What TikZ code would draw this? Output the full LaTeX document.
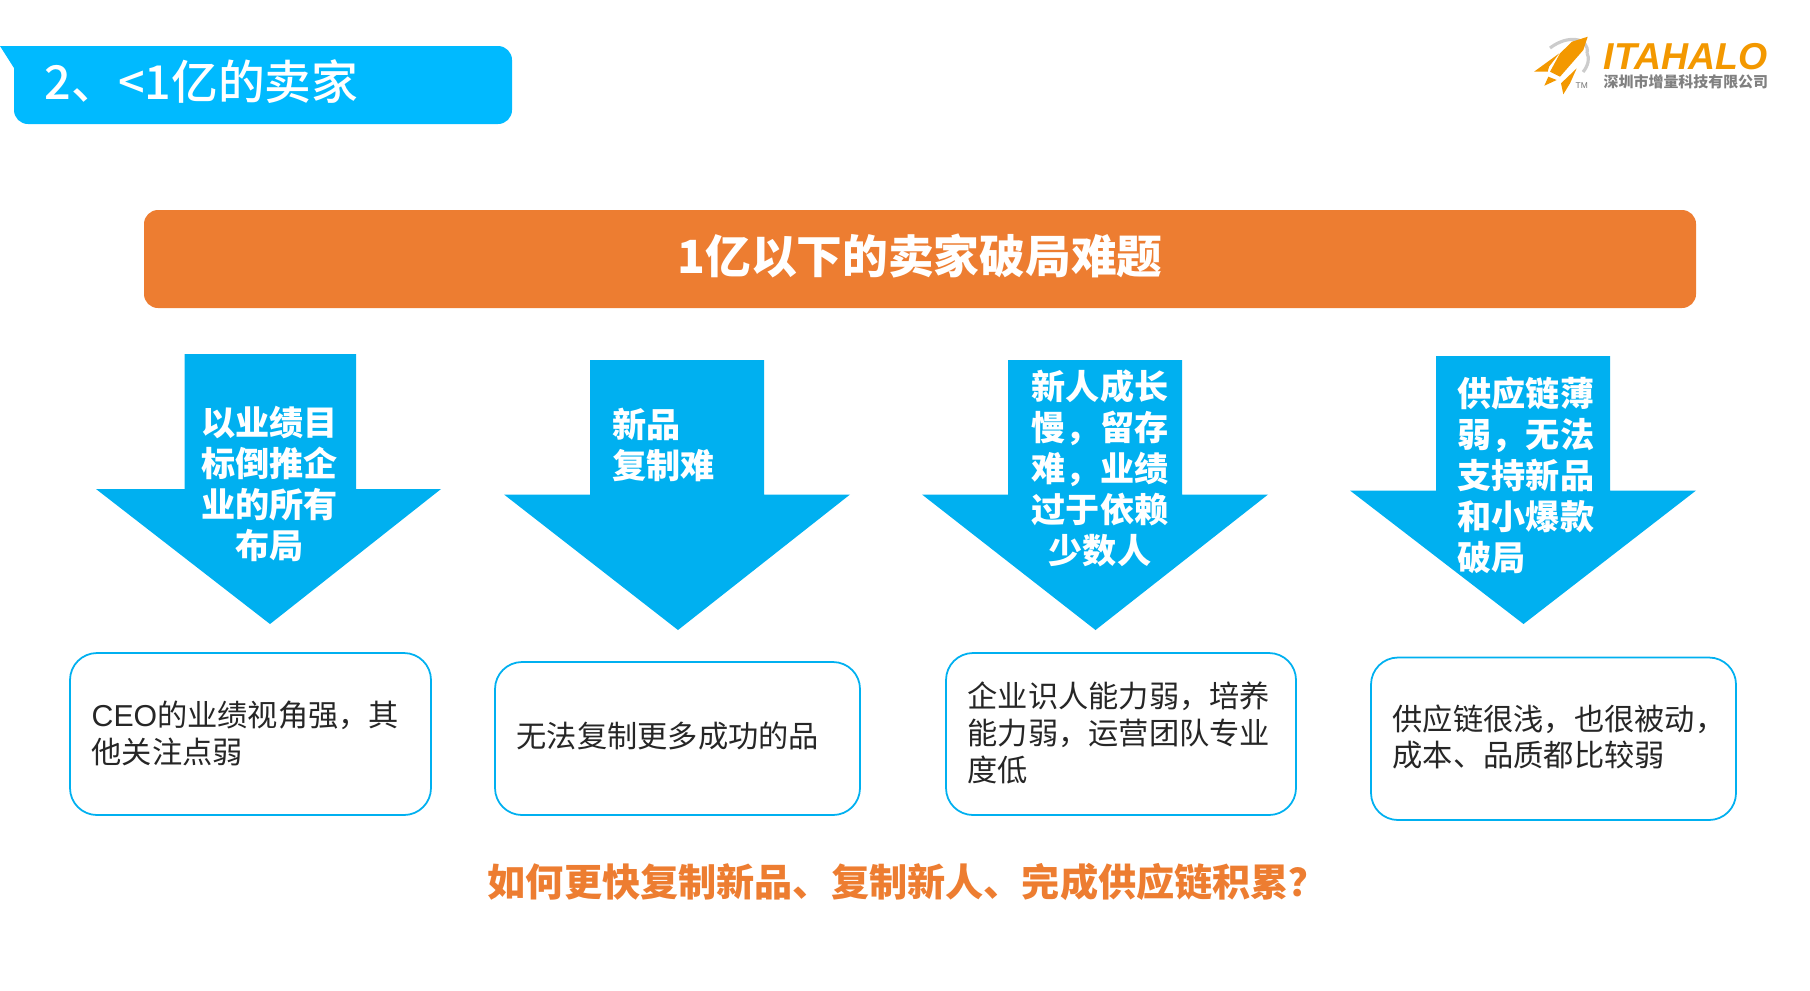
\documentclass[tikz,border=0pt]{standalone}
\usepackage{fontspec}
\setmainfont{Noto Sans CJK SC}
\newfontfamily\logofont{Liberation Sans}
\newfontfamily\mediumfont{Noto Sans CJK SC Medium}
\definecolor{headblue}{HTML}{00BAFF}
\definecolor{primary}{HTML}{00B0F0}
\definecolor{accent}{HTML}{ED7D31}
\definecolor{rocket}{HTML}{F39800}
\tikzset{
  x=0.01cm, y=-0.01cm,
  arrowtext/.style={inner sep=0, text=white, font=\fontsize{9.7}{11.66}\selectfont\bfseries},
  boxtext/.style={inner sep=0, anchor=west, align=left, text=black!85, font=\fontsize{8.6}{10.5}\selectfont},
  issuebox/.style={draw=primary, line width=0.5pt, fill=white, rounded corners=0.27cm},
}
\begin{document}
\begin{tikzpicture}
    \useasboundingbox (0,0) rectangle (1810,990);
    % title tab
    \fill [headblue, rounded corners=0.14cm] (14,124) -- (512,124) -- (512,46) -- (30,46) [sharp corners] -- (0,46) -- (14,68) [rounded corners=0.14cm] -- cycle;
    \node[inner sep=0, anchor=west, text=white, font=\mediumfont\fontsize{13.3}{15}\selectfont] (title) at (44,82) {2、<1亿的卖家};
    % logo
    \draw [black!20, line width=0.9pt] (1550,48) .. controls (1568,34) and (1590,38) .. (1587,53);
    \draw [black!20, line width=0.9pt] (1587,53) .. controls (1590,58) and (1588,66) .. (1583,72);
    \fill [rocket] (1587.7,36.7) -- (1572,41.7) -- (1560,53.3) -- (1550,71.7) -- (1560,76.7) -- (1571.7,63.3) -- (1583.3,50) -- cycle;
    \fill [rocket] (1534,71.7) -- (1559.3,53.3) -- (1549,66.7) -- (1547.7,71.7) -- cycle;
    \fill [rocket] (1544.3,85.7) -- (1548.3,76.7) -- (1556.7,80) -- cycle;
    \fill [rocket] (1563.3,94.3) -- (1561,83.3) -- (1576.7,68.3) -- (1570,83.3) -- cycle;
    \node[inner sep=0, anchor=west, text=black!55, font=\logofont\fontsize{2.4}{3}\selectfont] (tm) at (1575,85.5) {TM};
    \node[inner sep=0, anchor=west, text=rocket, font=\logofont\fontsize{10.65}{12}\selectfont\bfseries\itshape] (logoname) at (1603,57) {ITAHALO};
    \node[inner sep=0, anchor=west, text=black!50, font=\fontsize{4.25}{5}\selectfont\bfseries] (logosub) at (1603,82) {深圳市增量科技有限公司};
    % banner
    \fill [accent, rounded corners=0.14cm] (144,210) rectangle (1696,308);
    \node[text=white, inner sep=0, font=\fontsize{13}{15}\selectfont\bfseries] (banner) at (920,256) {1亿以下的卖家破局难题};
    % arrows
    \fill [primary] (184.5,354) -- (356,354) -- (356,489) -- (441,489) -- (270,624) -- (96,489) -- (184.5,489) -- cycle;
    \fill [primary] (590,360) -- (764,360) -- (764,494.5) -- (850,494.5) -- (678,630) -- (504,494.5) -- (590,494.5) -- cycle;
    \fill [primary] (1008,360) -- (1182,360) -- (1182,494.5) -- (1268,494.5) -- (1095.5,630) -- (922,494.5) -- (1008,494.5) -- cycle;
    \fill [primary] (1436,356) -- (1610,356) -- (1610,490.5) -- (1696,490.5) -- (1523.5,624) -- (1350,490.5) -- (1436,490.5) -- cycle;
    \node[arrowtext, align=center] (arrowa) at (269.5,484) {以业绩目\\标倒推企\\业的所有\\布局};
    \node[arrowtext, align=left, anchor=west] (arrowb) at (612,445) {新品\\复制难};
    \node[arrowtext, align=center] (arrowc) at (1100,468.5) {新人成长\\慢，留存\\难，业绩\\过于依赖\\少数人};
    \node[arrowtext, align=left, anchor=west] (arrowd) at (1457,475) {供应链薄\\弱，无法\\支持新品\\和小爆款\\破局};
    % boxes
    \draw [issuebox] (70,653) rectangle (431,815);
    \draw [issuebox] (495,662) rectangle (860,815);
    \draw [issuebox] (946,653) rectangle (1296,815);
    \draw [issuebox] (1371,657.5) rectangle (1736,820);
    \node[boxtext] (boxa) at (91,733) {{\logofont CEO}的业绩视角强，其\\他关注点弱};
    \node[boxtext] (boxb) at (516,736) {无法复制更多成功的品};
    \node[boxtext] (boxc) at (967,733) {企业识人能力弱，培养\\能力弱，运营团队专业\\度低};
    \node[boxtext] (boxd) at (1392,737) {供应链很浅，也很被动，\\成本、品质都比较弱};
    % question
    \node[inner sep=0, anchor=west, text=accent, font=\fontsize{10.85}{13}\selectfont\bfseries] (question) at (487,882) {如何更快复制新品、复制新人、完成供应链积累？};
  \end{tikzpicture}
\end{document}
